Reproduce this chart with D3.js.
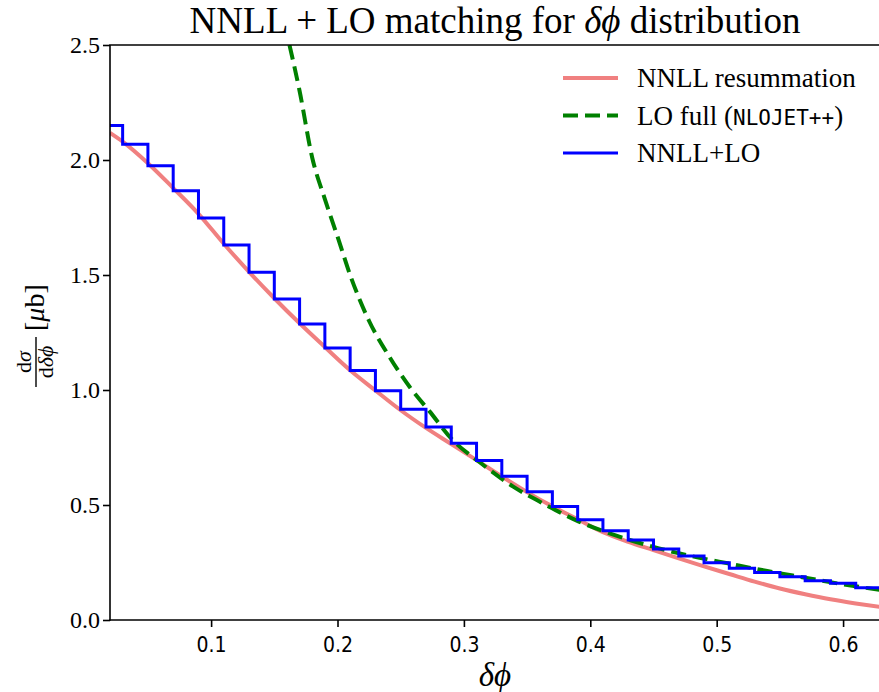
<!DOCTYPE html>
<html>
<head>
<meta charset="utf-8">
<script src="https://cdn.jsdelivr.net/npm/d3@7"></script>
<style>
  body { margin: 0; background: #fff; }
  svg { display: block; }
  .serif, .serif text { font-family: "Liberation Serif", "DejaVu Serif", serif; }
  .xtick text { font-family: "Liberation Sans Narrow", "DejaVu Sans Condensed", "Roboto", sans-serif; }
</style>
</head>
<body>
<svg id="chart" width="879" height="692"></svg>
<script>
// NNLL+LO histogram: left bin edges (width 0.02) and heights
const binLeft = [0.01, 0.03, 0.05, 0.07, 0.09, 0.11, 0.13, 0.15, 0.17, 0.19, 0.21,
    0.23, 0.25, 0.27, 0.29, 0.31, 0.33, 0.35, 0.37, 0.39, 0.41, 0.43, 0.45, 0.47,
    0.49, 0.51, 0.53, 0.55, 0.57, 0.59, 0.61];
const binRight = 0.63;
const matched = [2.150, 2.068, 1.975, 1.866, 1.748, 1.630, 1.512, 1.396, 1.287, 1.183, 1.085,
    0.997, 0.916, 0.839, 0.768, 0.694, 0.625, 0.558, 0.494, 0.436, 0.388, 0.348, 0.309, 0.278,
    0.249, 0.225, 0.206, 0.188, 0.171, 0.160, 0.140];

// NNLL resummation curve
const nnllX = [0.02, 0.03, 0.05, 0.07, 0.09, 0.11, 0.13, 0.15, 0.17, 0.19, 0.21, 0.23, 0.25,
    0.27, 0.29, 0.31, 0.33, 0.35, 0.37, 0.39, 0.41, 0.43, 0.45, 0.47, 0.49, 0.51, 0.53, 0.55,
    0.57, 0.59, 0.61, 0.63];
const nnllY = [2.118, 2.080, 1.986, 1.878, 1.766, 1.636, 1.514, 1.399, 1.290, 1.187, 1.086, 0.998,
    0.912, 0.835, 0.765, 0.695, 0.624, 0.556, 0.494, 0.438, 0.382, 0.340, 0.304, 0.268, 0.233,
    0.200, 0.167, 0.137, 0.112, 0.090, 0.072, 0.056];

// LO full (NLOJET++) curve
const loX = [0.162, 0.170, 0.180, 0.190, 0.200, 0.210, 0.225, 0.241, 0.257, 0.273, 0.291, 0.312,
    0.339, 0.365, 0.391, 0.42, 0.45, 0.48, 0.51, 0.54, 0.57, 0.60, 0.63];
const loY = [2.50, 2.30, 2.01, 1.83, 1.667, 1.50, 1.30, 1.145, 1.014, 0.906, 0.783, 0.688,
    0.58, 0.50, 0.428, 0.368, 0.318, 0.278, 0.245, 0.213, 0.184, 0.155, 0.130];

const xTicks = [0.1, 0.2, 0.3, 0.4, 0.5, 0.6];
const yTicks = [0.0, 0.5, 1.0, 1.5, 2.0, 2.5];

const legendItems = [
    { label: "NNLL resummation", color: "#f08080", dash: null, width: 4 },
    { label: "LO full (", code: "NLOJET++", tail: ")", color: "#008000", dash: "15,7", width: 4 },
    { label: "NNLL+LO", color: "#0000ff", dash: null, width: 3 }
];

const serifFont = "'Liberation Serif', 'DejaVu Serif', serif";
const svg = d3.select("#chart");
const m = { left: 110, right: 881, top: 45, bottom: 620 };

const x = d3.scaleLinear().domain([0.02, 0.63]).range([m.left, m.right]);
const y = d3.scaleLinear().domain([0, 2.5]).range([m.bottom, m.top]);

svg.append("defs").append("clipPath").attr("id", "plot-clip")
    .append("rect")
    .attr("x", m.left).attr("y", m.top)
    .attr("width", m.right - m.left).attr("height", m.bottom - m.top);

const plot = svg.append("g").attr("clip-path", "url(#plot-clip)");

const smooth = d3.line()
    .x(d => x(d[0]))
    .y(d => y(d[1]))
    .curve(d3.curveMonotoneX);

plot.append("path")
    .datum(nnllX.map((v, i) => [v, nnllY[i]]))
    .attr("d", smooth)
    .attr("fill", "none")
    .attr("stroke", "#f08080")
    .attr("stroke-width", 4);

plot.append("path")
    .datum(loX.map((v, i) => [v, loY[i]]))
    .attr("d", smooth)
    .attr("fill", "none")
    .attr("stroke", "#008000")
    .attr("stroke-width", 4)
    .attr("stroke-dasharray", "15,7");

const steps = binLeft.map((v, i) => [v, matched[i]]);
steps.push([binRight, matched[matched.length - 1]]);

plot.append("path")
    .datum(steps)
    .attr("d", d3.line().x(d => x(d[0])).y(d => y(d[1])).curve(d3.curveStepAfter))
    .attr("fill", "none")
    .attr("stroke", "#0000ff")
    .attr("stroke-width", 3)
    .attr("stroke-linejoin", "miter");

// Axes
const xAxis = svg.append("g")
    .attr("class", "xtick")
    .attr("transform", `translate(0,${m.bottom})`)
    .call(d3.axisBottom(x).tickValues(xTicks).tickFormat(d3.format(".1f")).tickSize(7).tickPadding(10));

const yAxis = svg.append("g")
    .attr("transform", `translate(${m.left},0)`)
    .call(d3.axisLeft(y).tickValues(yTicks).tickFormat(d3.format(".1f")).tickSize(7).tickPadding(3));

[xAxis, yAxis].forEach(g => {
    g.select(".domain").remove();
    g.selectAll(".tick line").attr("stroke", "#000").attr("stroke-width", 1.6);
    g.selectAll(".tick text").attr("fill", "#000");
});
xAxis.selectAll(".tick text").attr("font-size", 21);
yAxis.selectAll(".tick text")
    .attr("font-size", 24)
    .style("font-family", serifFont);

// spines (right one falls just outside the picture)
const spine = svg.append("g").attr("stroke", "#000").attr("stroke-width", 1.6);
spine.append("line").attr("x1", m.left).attr("x2", m.left).attr("y1", m.top).attr("y2", m.bottom + 0.8);
spine.append("line").attr("x1", m.left - 0.8).attr("x2", m.right).attr("y1", m.bottom).attr("y2", m.bottom);
spine.append("line").attr("x1", m.left - 0.8).attr("x2", m.right).attr("y1", m.top).attr("y2", m.top);

// Title
svg.append("text")
    .attr("class", "serif")
    .attr("x", 495).attr("y", 33)
    .attr("text-anchor", "middle")
    .attr("font-size", 37)
    .html('NNLL + LO matching for <tspan font-style="italic">δϕ</tspan> distribution');

// x label
svg.append("text")
    .attr("class", "serif")
    .attr("x", 495).attr("y", 686)
    .attr("text-anchor", "middle")
    .attr("font-size", 33)
    .attr("font-style", "italic")
    .text("δϕ");

// y label: fraction dσ / dδϕ followed by [μb], rotated
const yl = svg.append("g")
    .attr("class", "serif")
    .attr("transform", "translate(36,362) rotate(-90)");
yl.append("text").attr("x", 0).attr("y", -5)
    .attr("text-anchor", "middle").attr("font-size", 22)
    .html('d<tspan font-style="italic">σ</tspan>');
yl.append("line").attr("x1", -25).attr("x2", 25).attr("y1", 0).attr("y2", 0)
    .attr("stroke", "#000").attr("stroke-width", 1.4);
yl.append("text").attr("x", 0).attr("y", 17)
    .attr("text-anchor", "middle").attr("font-size", 22)
    .html('d<tspan font-style="italic">δϕ</tspan>');
yl.append("text").attr("x", 31).attr("y", 8)
    .attr("font-size", 28)
    .html('[<tspan font-style="italic">μ</tspan>b]');

// Legend
const legend = svg.append("g").attr("class", "serif");
legendItems.forEach((d, i) => {
    const ly = 78 + i * 37.5;
    legend.append("line")
        .attr("x1", 563).attr("x2", 618)
        .attr("y1", ly).attr("y2", ly)
        .attr("stroke", d.color)
        .attr("stroke-width", d.width)
        .attr("stroke-dasharray", d.dash);
    const t = legend.append("text")
        .attr("x", 637).attr("y", ly + 9)
        .attr("font-size", 27);
    t.append("tspan").text(d.label);
    if (d.code) {
        t.append("tspan").attr("font-family", "'DejaVu Sans Mono', monospace").attr("font-size", 21).text(d.code);
        t.append("tspan").text(d.tail);
    }
});
</script>
</body>
</html>
